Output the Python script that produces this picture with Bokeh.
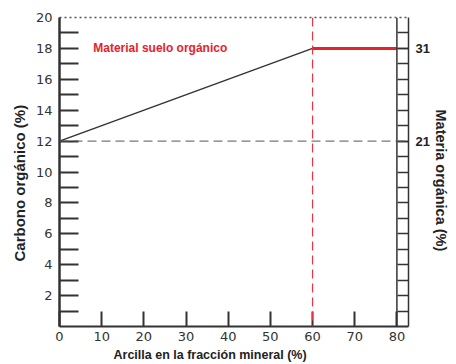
from bokeh.plotting import figure
from bokeh.models import LinearAxis, FixedTicker, Span, Label, Range1d, Title
from bokeh.embed import file_html
from bokeh.resources import INLINE

# ---- data ----
clay = [0, 60, 80]            # Arcilla en la fracción mineral (%)
carbon = [12, 18, 18]         # Carbono orgánico (%)
x_ticks = [0, 10, 20, 30, 40, 50, 60, 70, 80]
y_ticks = [2, 4, 6, 8, 10, 12, 14, 16, 18, 20]
y_minor = list(range(1, 20))
right_ticks_carbon = [12, 18]
right_tick_labels = ["21", "31"]   # Materia orgánica (%)
ref_carbon = 12
ref_clay = 60

W, H = 456, 364
FL, FR, FT, FB = 59, 408, 17, 327   # frame edges on the page

p = figure(width=W, height=H, x_range=Range1d(0, 82.75), y_range=Range1d(0, 20),
           output_backend="svg", toolbar_location=None,
           x_axis_type=None, y_axis_type=None,
           min_border_left=FL, min_border_right=W - FR, min_border_top=FT,
           min_border_bottom=H - FB)
p.outline_line_color = None
p.background_fill_color = "white"
p.border_fill_color = "white"

AX = "#333333"
TICKFONT = "DejaVu Sans"
TICKCOL = "#333333"
TITLE_FONT = "Liberation Sans"

# left axis
ly = LinearAxis(ticker=FixedTicker(ticks=y_ticks, minor_ticks=y_minor))
ly.axis_line_color = AX
ly.axis_line_width = 2.5
ly.major_tick_in = 0
ly.major_tick_out = 0
ly.minor_tick_in = 19
ly.minor_tick_out = 0
ly.minor_tick_line_color = AX
ly.minor_tick_line_width = 2
ly.major_label_standoff = 7
ly.major_label_text_font = TICKFONT
ly.major_label_text_font_size = "13px"
ly.major_label_text_color = TICKCOL
p.add_layout(ly, "left")

# bottom axis
bx = LinearAxis(ticker=FixedTicker(ticks=x_ticks, minor_ticks=[]))
bx.axis_line_color = AX
bx.axis_line_width = 2
bx.major_tick_in = 15
bx.major_tick_out = 0
bx.major_tick_line_color = AX
bx.major_tick_line_width = 2
bx.major_label_standoff = 5
bx.major_label_text_font = TICKFONT
bx.major_label_text_font_size = "13px"
bx.major_label_text_color = TICKCOL
p.add_layout(bx, "below")

# right axis (ladder) with Materia orgánica labels
ry = LinearAxis(ticker=FixedTicker(ticks=right_ticks_carbon, minor_ticks=y_minor))
ry.major_label_overrides = dict(zip(right_ticks_carbon, right_tick_labels))
ry.axis_line_color = AX
ry.axis_line_width = 1.5
ry.major_tick_in = 11
ry.major_tick_out = 0
ry.major_tick_line_color = AX
ry.major_tick_line_width = 1.5
ry.minor_tick_in = 11
ry.minor_tick_out = 0
ry.minor_tick_line_color = AX
ry.minor_tick_line_width = 1.5
ry.major_label_standoff = 7
ry.major_label_text_font = "Liberation Sans"
ry.major_label_text_font_style = "bold"
ry.major_label_text_font_size = "13px"
ry.major_label_text_color = "#222222"
p.add_layout(ry, "right")

# top dotted axis
ta = LinearAxis(ticker=FixedTicker(ticks=[], minor_ticks=[]))
ta.axis_line_color = "#555555"
ta.axis_line_width = 1.5
ta.axis_line_dash = "2 3"
ta.major_tick_in = 0
ta.major_tick_out = 0
ta.major_label_text_font_size = "0px"
p.add_layout(ta, "above")

# axis titles
p.add_layout(Title(text="Carbono orgánico (%)", align="left", offset=65,
                   text_font=TITLE_FONT, text_font_style="bold", text_font_size="15px",
                   text_color="#222222", standoff=10), "left")
p.add_layout(Title(text="Materia orgánica (%)", align="left", offset=92,
                   text_font=TITLE_FONT, text_font_style="bold", text_font_size="14.5px",
                   text_color="#222222", standoff=0), "right")
p.add_layout(Title(text="Arcilla en la fracción mineral (%)", align="left", offset=54,
                   text_font=TITLE_FONT, text_font_style="bold", text_font_size="12.5px",
                   text_color="#222222", standoff=5), "below")

# ladder left line at x = 80
p.add_layout(Span(location=80, dimension="height", line_color=AX, line_width=1.5))

# reference lines
p.add_layout(Span(location=ref_carbon, dimension="width", line_color="#555555",
                  line_width=1, line_dash="9 5"))
p.add_layout(Span(location=ref_clay, dimension="height", line_color="#ee3340",
                  line_width=1.2, line_dash="9 5"))

# data lines
p.line(clay[:2], carbon[:2], line_color="#333333", line_width=1.5)
p.line(clay[1:], carbon[1:], line_color="#e8212b", line_width=3)

# annotation
p.add_layout(Label(x=8, y=18, text="Material suelo orgánico", text_color="#e8212b",
                   text_font="Liberation Sans", text_font_style="bold",
                   text_font_size="12px", text_baseline="middle"))

open("out.html", "w").write(file_html(p, INLINE))
